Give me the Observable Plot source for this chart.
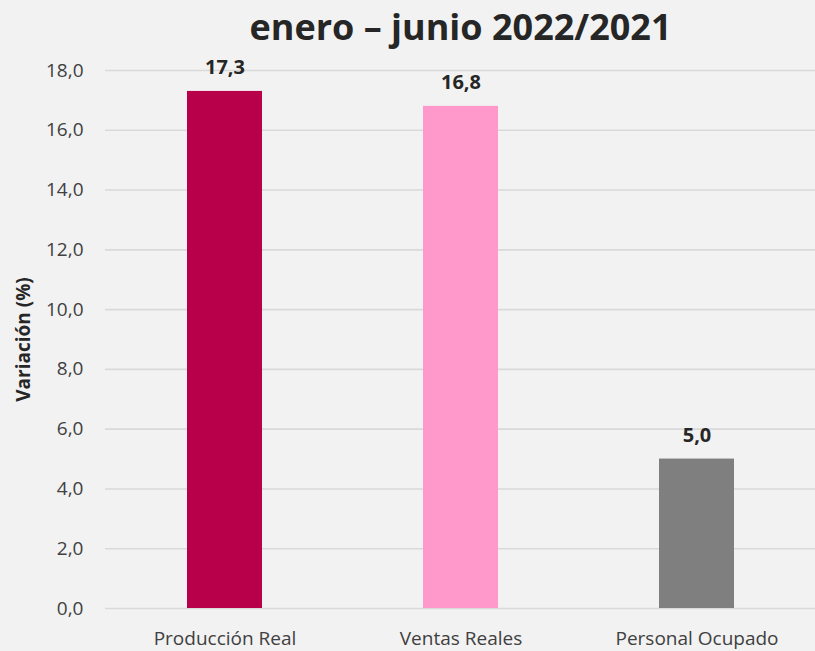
<!DOCTYPE html>
<html>
<head>
<meta charset="utf-8">
<script src="https://cdn.jsdelivr.net/npm/d3@7"></script>
<script src="https://cdn.jsdelivr.net/npm/@observablehq/plot@0.6"></script>
<style>
  html, body { margin: 0; padding: 0; background: #F2F2F2; }
  #chart svg { display: block; }
</style>
</head>
<body>
<div id="chart"></div>
<script>
const categories = ["Producción Real", "Ventas Reales", "Personal Ocupado"];
const values = [17.3, 16.8, 5.0];
const colors = ["#B8004A", "#FF99CC", "#7F7F7F"];
const yTicks = [0, 2, 4, 6, 8, 10, 12, 14, 16, 18];
const title = "enero – junio 2022/2021";
const yLabel = "Variación (%)";

const data = categories.map((c, i) => ({cat: c, value: values[i]}));
const fmt = d => d.toFixed(1).replace(".", ",");
const font = "'Open Sans', 'Noto Sans', sans-serif";

const chart = Plot.plot({
  width: 815,
  height: 651,
  marginLeft: 105,
  marginRight: 0,
  marginTop: 70,
  marginBottom: 43,
  style: {background: "#F2F2F2", fontFamily: font, color: "#404040"},
  x: {domain: categories, paddingInner: 0.683, paddingOuter: 0.3415},
  y: {domain: [0, 18]},
  color: {domain: categories, range: colors},
  marks: [
    Plot.gridY(yTicks, {stroke: "#D9D9D9", strokeOpacity: 1, strokeWidth: 1.6}),
    Plot.barY(data, {x: "cat", y: "value", fill: "cat"}),
    Plot.text(data, {x: "cat", y: "value", text: d => fmt(d.value), dy: -17, lineAnchor: "bottom", fontWeight: "bold", fontSize: 20, fill: "#262626"}),
    Plot.axisY({ticks: yTicks, tickFormat: fmt, tickSize: 0, tickPadding: 22, fontSize: 19, label: null, fill: "#404040"}),
    Plot.axisX({tickSize: 0, tickPadding: 23, fontSize: 19, label: null, fill: "#404040"}),
    Plot.text([yLabel], {frameAnchor: "left", dx: -82, rotate: -90, textAnchor: "middle", lineAnchor: "middle", fontWeight: "bold", fontSize: 19, fill: "#262626"}),
    Plot.text([title], {frameAnchor: "top", dy: -30.5, lineAnchor: "bottom", fontWeight: "bold", fontSize: 36, fill: "#262626"})
  ]
});
document.getElementById("chart").appendChild(chart);
</script>
</body>
</html>
